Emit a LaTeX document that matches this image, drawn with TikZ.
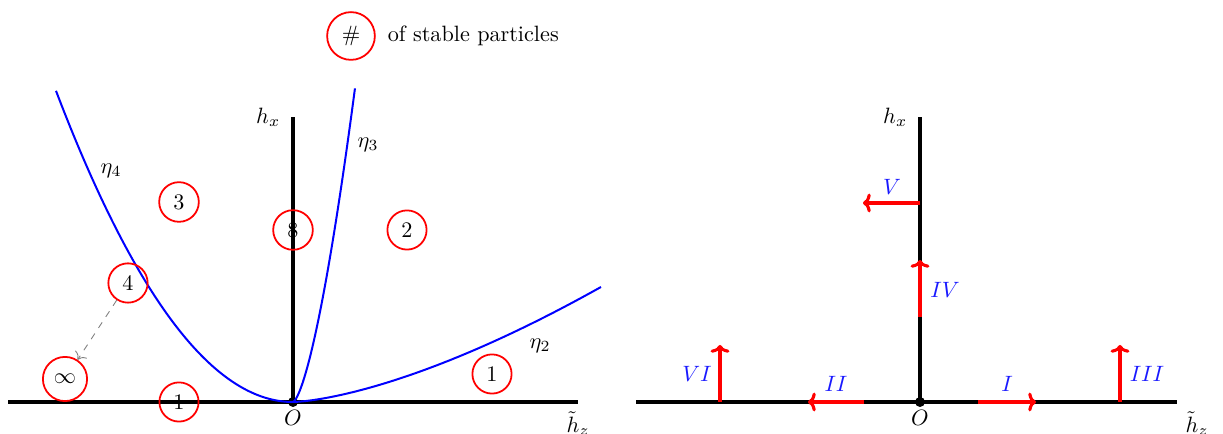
\documentclass[tikz,border=0pt]{standalone}
\usetikzlibrary{arrows.meta}
\begin{document}
\begin{tikzpicture}[x=0.451pt,y=-0.451pt,
  axis/.style={line width=1.4pt,black},
  curve/.style={line width=0.9pt,blue},
  count/.style={circle,draw=red,line width=0.8pt,inner sep=0.3333em},
  dirarrow/.style={line width=1.6pt,red,-{To[length=3.5pt,width=8.5pt,line width=1.4pt]}},
  dirlabel/.style={text=blue!90!white},
  dot/.style={circle,fill=black,inner sep=0pt,minimum size=4.5pt}]
\useasboundingbox (0,0) rectangle (1223,434);
% ---------- legend ----------
\node[count] (hash) at (351,36) {$\#$};
\node[anchor=west] (legtext) at (380,36) {of stable particles};
% ---------- left panel ----------
\coordinate (Lw) at (8,402);
\coordinate (Le) at (578,402);
\coordinate (Ln) at (293,117);
\node[dot] (LO) at (293,402) {};
\draw[axis] (Lw) -- (Le);
\draw[axis] (LO.center) -- (Ln);
\node (LOlab) at (293,418) {$O$};
\node (Lhz) at (578,424) {$\tilde h_z$};
\node[anchor=east] (Lhx) at (288,117) {$h_x$};
\draw[curve] plot[domain=-2.37:0,samples=80] ({293+100*\x},{402-55.4*\x*\x});
\draw[curve] plot[domain=0:0.62,samples=80] ({293+100*\x},{402-643*\x*sqrt(\x)});
\draw[curve] plot[domain=0:3.08,samples=80] ({293+100*\x},{402-21.28*\x*sqrt(\x)});
\node (eta4) at (111,171) {$\eta_4$};
\node (eta3) at (368,145) {$\eta_3$};
\node (eta2) at (540,346) {$\eta_2$};
\node[count] (c3) at (179,202) {3};
\node[count] (c8) at (293,230) {8};
\node[count] (c2) at (407,230) {2};
\node[count] (c4) at (128,283) {4};
\node[count] (cinf) at (65,379) {$\infty$};
\node[count] (c1a) at (179,402) {1};
\node[count] (c1b) at (492,374) {1};
\draw[gray,dashed,line width=0.4pt,-{To[length=3pt]}] (c4) -- (cinf);
% ---------- right panel ----------
\coordinate (Rw) at (636,402);
\coordinate (Re) at (1177,402);
\coordinate (Rn) at (920,117);
\node[dot] (RO) at (920,402) {};
\draw[axis] (Rw) -- (Re);
\draw[axis] (RO.center) -- (Rn);
\node (ROlab) at (920,418) {$O$};
\node (Rhz) at (1197,424) {$\tilde h_z$};
\node[anchor=east] (Rhx) at (915,117) {$h_x$};
\coordinate (a1s) at (978,402);  \coordinate (a1e) at (1036,402);
\coordinate (a2s) at (864,402);  \coordinate (a2e) at (808,402);
\coordinate (a3s) at (1120,402); \coordinate (a3e) at (1120,345);
\coordinate (a4s) at (920,317);  \coordinate (a4e) at (920,260);
\coordinate (a5s) at (920,203);  \coordinate (a5e) at (863,203);
\coordinate (a6s) at (720,402);  \coordinate (a6e) at (720,345);
\draw[dirarrow] (a1s) -- (a1e);
\draw[dirarrow] (a2s) -- (a2e);
\draw[dirarrow] (a3s) -- (a3e);
\draw[dirarrow] (a4s) -- (a4e);
\draw[dirarrow] (a5s) -- (a5e);
\draw[dirarrow] (a6s) -- (a6e);
\node[dirlabel] (l1) at (1007,384) {$I$};
\node[dirlabel] (l2) at (836,384) {$II$};
\node[dirlabel] (l3) at (1147,374) {$III$};
\node[dirlabel] (l4) at (945,290) {$IV$};
\node[dirlabel] (l5) at (892,187) {$V$};
\node[dirlabel] (l6) at (697,374) {$VI$};
\end{tikzpicture}
\end{document}
